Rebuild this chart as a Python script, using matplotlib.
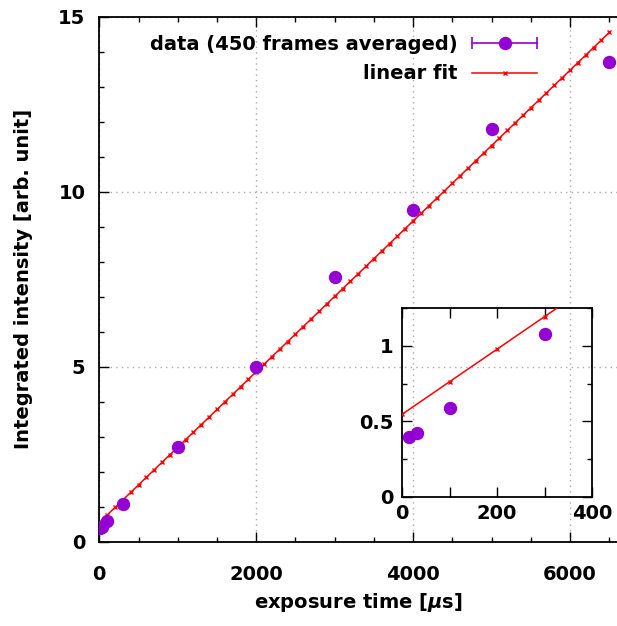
import matplotlib
matplotlib.use("Agg")
import matplotlib.pyplot as plt
import numpy as np
from matplotlib.legend_handler import HandlerBase
from matplotlib.lines import Line2D
from matplotlib.ticker import MultipleLocator, FuncFormatter

plt.rcParams["font.family"] = ["DejaVu Sans"]
plt.rcParams["font.weight"] = "bold"
plt.rcParams["mathtext.fontset"] = "dejavusans"

# exposure time [us] and integrated intensity (450 frames averaged)
exposure = np.array([14, 31, 100, 300, 1000, 2000, 3000, 4000, 5000, 6500])
intensity = np.array([0.40, 0.42, 0.59, 1.08, 2.72, 5.00, 7.56, 9.49, 11.78, 13.70])

# linear fit evaluated on a 100 us grid
slope, offset = np.polyfit(exposure, intensity, 1)
t_fit = np.arange(0, 6501, 100)
i_fit = slope * t_fit + offset

PURPLE = "#9400d3"
RED = "#ff0000"
FS = 14


class ErrorbarSample(HandlerBase):
    """Legend sample: horizontal bar with end caps and a dot in the middle."""

    def create_artists(self, legend, orig_handle, xdescent, ydescent,
                       width, height, fontsize, trans):
        y = height / 2 - ydescent
        x0, x1 = -xdescent, width - xdescent
        bar = Line2D([x0, x1], [y, y], color=PURPLE, lw=1.2)
        caps = Line2D([x0, x1], [y, y], ls="none", marker="|", ms=8,
                      mew=1.2, color=PURPLE)
        dot = Line2D([(x0 + x1) / 2], [y], ls="none", marker="o", ms=8.6,
                     color=PURPLE)
        for a in (bar, caps, dot):
            a.set_transform(trans)
        return [bar, caps, dot]


fig = plt.figure(figsize=(6.17, 6.26), dpi=100)
W, H = 617, 626
ax = fig.add_axes([99.3 / W, (H - 541.7) / H, 517.8 / W, 525 / H])
ins = fig.add_axes([402 / W, (H - 497) / H, 190 / W, 189 / H])
ins.set_facecolor("none")

# ---- main panel ----
fit_line, = ax.plot(t_fit, i_fit, color=RED, lw=1.1, marker="x", ms=3,
                    mew=1.0, label="linear fit", zorder=3)
data_pts, = ax.plot(exposure, intensity, ls="none", marker="o", ms=8.6,
                    color=PURPLE, label="data (450 frames averaged)",
                    zorder=4)

ax.set_xlim(0, 6600)
ax.set_ylim(0, 15)
ax.xaxis.set_major_locator(MultipleLocator(2000))
ax.xaxis.set_minor_locator(MultipleLocator(500))
ax.yaxis.set_major_locator(MultipleLocator(5))
ax.yaxis.set_minor_locator(MultipleLocator(1))
ax.spines["right"].set_visible(False)
for s in ("left", "top", "bottom"):
    ax.spines[s].set_linewidth(1.3)
ax.tick_params(which="both", direction="in", top=True, right=False,
               width=1.0, labelsize=FS)
ax.tick_params(which="major", length=7)
ax.tick_params(which="minor", length=3.5)
ax.tick_params(axis="x", which="major", pad=17)
ax.tick_params(axis="y", which="major", pad=10)
ax.grid(True, which="major", ls=(0, (1, 3)), color="#aaaaaa", lw=1.0)
ax.set_axisbelow(True)

ax.set_xlabel(r"exposure time [$\mu$s]", fontsize=FS, fontweight="bold",
              labelpad=5)
ax.set_ylabel("Integrated intensity [arb. unit]", fontsize=FS,
              fontweight="bold", labelpad=18)

ax.legend([data_pts, fit_line],
          ["data (450 frames averaged)", "linear fit"],
          handler_map={data_pts: ErrorbarSample()},
          loc="upper right", bbox_to_anchor=(547 / W, 1 - 25 / H),
          bbox_transform=fig.transFigure, frameon=False, fontsize=FS,
          handlelength=3.35, handletextpad=0.75, labelspacing=0.55,
          borderpad=0, markerfirst=False, numpoints=1)

# ---- inset: short exposures ----
ins.plot(t_fit, i_fit, color=RED, lw=1.1, marker="x", ms=3, mew=1.0,
         zorder=3)
ins.plot(exposure, intensity, ls="none", marker="o", ms=8.6, color=PURPLE,
         zorder=4)
ins.set_xlim(0, 400)
ins.set_ylim(0, 1.25)
ins.set_xticks([0, 100, 200, 300, 400])
ins.set_xticklabels(["0", "", "200", "", "400"])
ins.yaxis.set_major_locator(MultipleLocator(0.5))
ins.yaxis.set_minor_locator(MultipleLocator(0.25))
ins.yaxis.set_major_formatter(FuncFormatter(lambda v, p: f"{v:g}"))
for s in ins.spines.values():
    s.set_linewidth(1.3)
ins.tick_params(which="both", direction="in", top=True, right=True,
                width=1.0, labelsize=FS)
ins.tick_params(which="major", length=7)
ins.tick_params(which="minor", length=3.5)
ins.tick_params(axis="x", pad=5)
ins.tick_params(axis="y", pad=6)

fig.savefig("out.png", dpi=100)
